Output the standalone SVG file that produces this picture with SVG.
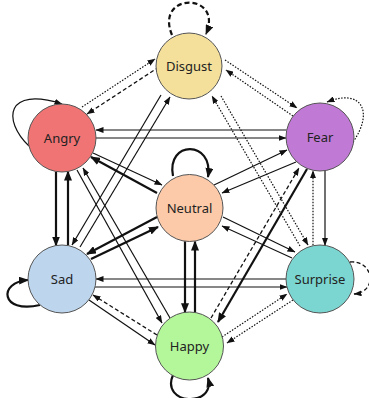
<svg xmlns="http://www.w3.org/2000/svg" width="369" height="398" viewBox="0 0 369 398">
<style>
.node{stroke:#555;stroke-width:1}
.lbl{font-family:"Noto Sans","DejaVu Sans",sans-serif;font-size:13px;fill:#222;text-anchor:middle;dominant-baseline:central}
.e{fill:none;stroke:#111}
.thin{stroke-width:1.2;marker-end:url(#a)}
.thick{stroke-width:2.2;marker-end:url(#at)}
.dash{stroke-width:1.3;stroke-dasharray:4 2.5;marker-end:url(#a)}
.dot{stroke-width:1.2;stroke-dasharray:1.5 1.5;marker-end:url(#a)}
</style>
<defs>
<marker id="a" viewBox="0 0 8 6" markerWidth="8" markerHeight="6" refX="7.5" refY="3" orient="auto" markerUnits="userSpaceOnUse"><path d="M0,0 L8,3 L0,6 z" fill="#111"/></marker>
<marker id="at" viewBox="0 0 10 8" markerWidth="10" markerHeight="8" refX="9" refY="4" orient="auto" markerUnits="userSpaceOnUse"><path d="M0,0 L10,4 L0,8 z" fill="#111"/></marker>
</defs>
<g id="edges">
<!-- Angry - Disgust -->
<path class="e dot" d="M82,107 L155,59"/>
<path class="e dash" d="M159,67 L87,114"/>
<!-- Disgust - Fear -->
<path class="e dot" d="M225,60 L297,108"/>
<path class="e dot" d="M293,116 L226,70"/>
<!-- Disgust - Sad -->
<path class="e thin" d="M161,95 L72,245"/>
<path class="e thin" d="M80,247 L170,97"/>
<!-- Disgust - Surprise -->
<path class="e dot" d="M300,246 L212,96"/>
<path class="e dot" d="M221,96 L308,245"/>
<!-- Angry - Fear -->
<path class="e thin" d="M286.5,130 L96,130"/>
<path class="e thin" d="M95,138 L286,138"/>
<!-- Angry - Sad -->
<path class="e thick" d="M56,171.5 L56,245.5"/>
<path class="e thick" d="M68,245.5 L68,171.5"/>
<!-- Angry - Neutral -->
<path class="e thin" d="M93,153 L162,185"/>
<path class="e thick" d="M157,193 L91,157"/>
<!-- Angry - Happy -->
<path class="e thin" d="M170,318 L83,168"/>
<path class="e thin" d="M77,170 L162,323"/>
<!-- Fear - Neutral -->
<path class="e thin" d="M214,185 L287,150"/>
<path class="e thin" d="M296,162 L222,193"/>
<!-- Fear - Happy -->
<path class="e dash" d="M211,318 L299,168"/>
<path class="e thick" d="M307,169 L218,322"/>
<!-- Fear - Surprise -->
<path class="e thin" d="M325,170.6 L325,245.4"/>
<path class="e dot" d="M313,245.3 L313,170.7"/>
<!-- Neutral - Sad -->
<path class="e thick" d="M157,217 L87,254"/>
<path class="e thick" d="M91,259 L158,227"/>
<!-- Neutral - Surprise -->
<path class="e thin" d="M223,217 L295,252"/>
<path class="e thin" d="M292,258 L222,226"/>
<!-- Neutral - Happy -->
<path class="e thick" d="M185,241.2 L185,312.3"/>
<path class="e thick" d="M195,312.5 L195,241.5"/>
<!-- Sad - Surprise -->
<path class="e thin" d="M286,279 L96,279"/>
<path class="e thin" d="M95,287 L287,287"/>
<!-- Sad - Happy -->
<path class="e dash" d="M157,335 L93,295"/>
<path class="e thin" d="M89,300 L155,345"/>
<!-- Surprise - Happy -->
<path class="e dot" d="M222,337 L287,294"/>
<path class="e dot" d="M293,300 L227,343"/>
<!-- self loops -->
<path class="e" style="stroke-width:2.2;stroke-dasharray:5 3;marker-end:url(#at)" d="M172,35 C154,-8 224,-8 206,34"/>
<path class="e thin" d="M29,146 C2,120 6,86 62,104"/>
<path class="e dot" d="M353,142 C374,112 362,88 327,102"/>
<path class="e thick" d="M173,176 C166,140 214,140 208,177"/>
<path class="e thick" d="M40,305 C0,314 -2,282 28,280"/>
<path class="e dash" d="M350,262 C374,260 378,292 354,294"/>
<path class="e thick" d="M173,375 C160,405 216,408 208,378"/>
</g>
<g id="disgust"><circle class="node" cx="189" cy="66" r="33" fill="#f4e09b"/><text class="lbl" x="189" y="66">Disgust</text></g>
<g id="angry"><circle class="node" cx="62" cy="138" r="34" fill="#f07474"/><text class="lbl" x="62" y="138">Angry</text></g>
<g id="fear"><circle class="node" cx="320" cy="137" r="34" fill="#c07ad5"/><text class="lbl" x="320" y="137">Fear</text></g>
<g id="neutral"><circle class="node" cx="189.5" cy="208" r="33.5" fill="#fdcaa9"/><text class="lbl" x="189.5" y="208">Neutral</text></g>
<g id="sad"><circle class="node" cx="62" cy="279" r="34" fill="#bdd5ed"/><text class="lbl" x="62" y="279">Sad</text></g>
<g id="surprise"><circle class="node" cx="320" cy="279" r="34" fill="#7bd6d1"/><text class="lbl" x="320" y="279">Surprise</text></g>
<g id="happy"><circle class="node" cx="189.5" cy="346" r="34" fill="#b4f79b"/><text class="lbl" x="189.5" y="346">Happy</text></g>
</svg>
